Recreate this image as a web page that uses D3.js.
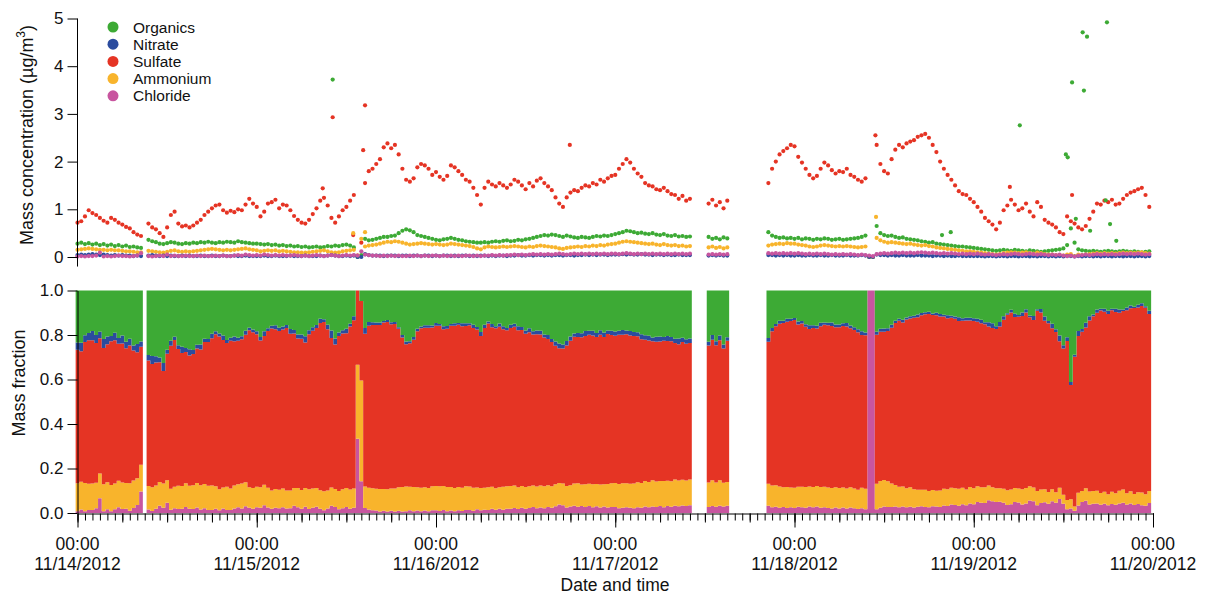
<!DOCTYPE html>
<html><head><meta charset="utf-8">
<script src="https://cdn.jsdelivr.net/npm/d3@7"></script>
<style>
body{margin:0;background:#fff;}
svg{font-family:"Liberation Sans",Arial,Helvetica,sans-serif;}
</style></head><body>
<svg id="chart" width="1205" height="594"></svg>
<script>
// ---- time grid (30-minute averages) ----
const startTime = "2012-11-14T00:00";
const stepMinutes = 30;

// ---- series (µg/m3), one value per 30-min slot, null = no data ----
const organics = [
0.28,0.30,0.27,0.29,0.26,0.28,0.25,0.27,0.24,0.26,0.23,0.25,0.22,0.24,0.21,0.22,0.20,0.19,
null,
0.36,0.33,0.31,0.28,0.27,0.29,0.31,0.30,0.28,0.27,0.29,0.28,0.30,0.29,0.31,0.30,0.32,0.30,0.29,0.31,0.30,0.32,0.31,0.30,0.33,0.31,0.30,0.29,0.28,
0.28,0.27,0.26,0.27,0.25,0.26,0.24,0.25,0.23,0.24,0.22,0.23,0.21,0.22,0.20,0.21,0.22,0.20,0.21,0.23,0.22,0.24,0.23,0.25,0.26,0.24,
0.20,0.00,0.04,
0.38,0.35,0.36,0.38,0.40,0.42,0.42,0.44,0.45,0.50,0.55,0.58,0.56,0.52,0.46,0.44,0.42,0.40,0.38,
0.36,0.35,0.37,0.38,0.40,0.38,0.36,0.35,0.33,0.32,0.31,0.30,0.30,0.31,0.30,0.32,0.33,0.32,0.34,0.35,0.33,0.34,0.36,0.35,0.37,0.38,0.40,0.42,0.44,0.46,0.45,0.47,0.46,0.44,0.42,0.45,0.43,0.41,0.40,0.42,0.41,0.40,0.42,0.44,0.43,0.45,0.44,0.46,
0.48,0.50,0.52,0.55,0.54,0.52,0.50,0.51,0.49,0.48,0.50,0.47,0.46,0.48,0.45,0.44,0.46,0.43,0.44,0.42,0.43,
null,null,null,null,
0.42,0.38,0.40,0.37,0.41,0.39,
null,null,null,null,null,null,null,null,null,null,
0.52,0.45,0.42,0.40,0.41,0.39,0.40,
0.38,0.40,0.37,0.39,0.38,0.36,0.38,0.37,0.39,0.38,0.36,0.37,0.38,0.36,0.37,0.38,0.39,0.40,0.42,0.45,
0.00,0.00,
0.65,0.50,0.46,0.44,0.45,0.42,0.40,0.41,0.38,0.37,0.36,0.35,0.33,0.32,0.30,0.31,0.28,0.27,0.26,0.25,0.24,0.23,0.22,0.22,0.21,0.20,
0.19,0.18,0.17,0.16,0.15,0.14,0.13,0.14,0.15,0.14,0.13,0.15,0.14,0.13,0.12,0.14,0.13,0.12,0.11,0.12,0.13,0.14,0.15,0.16,0.18,0.25,0.60,0.30,0.16,0.14,0.13,0.12,0.13,0.12,0.11,0.12,0.13,0.12,0.11,0.12,0.13,0.12,0.11,0.12,0.11,0.10,0.11,0.12
];

const nitrate = [
0.04,0.05,0.04,0.05,0.06,0.05,0.04,0.05,0.04,0.03,0.04,0.03,0.04,0.03,0.03,0.02,0.03,0.02,
null,
0.03,0.04,0.03,0.02,0.03,0.02,0.03,0.02,0.02,0.03,0.02,0.03,0.02,0.02,0.03,0.02,0.02,0.03,0.02,0.02,0.03,0.02,0.02,0.03,0.02,0.02,0.03,0.02,0.02,
0.02,0.02,0.03,0.02,0.02,0.03,0.02,0.02,0.02,0.03,0.02,0.02,0.02,0.03,0.02,0.02,0.02,0.03,0.02,0.03,0.04,0.03,0.02,0.02,0.03,0.02,
0.03,0.00,0.00,
0.06,0.04,0.03,0.03,0.03,0.02,0.03,0.03,0.03,0.02,0.03,0.03,0.02,0.03,0.03,0.02,0.03,0.03,0.02,
0.03,0.02,0.03,0.03,0.02,0.03,0.02,0.03,0.03,0.02,0.03,0.02,0.03,0.03,0.02,0.03,0.02,0.03,0.03,0.02,0.03,0.03,0.04,0.03,0.03,0.04,0.03,0.04,0.04,0.03,0.04,0.03,0.04,0.04,0.03,0.04,0.04,0.03,0.04,0.04,0.05,0.04,0.05,0.04,0.05,0.05,0.04,0.05,
0.05,0.05,0.06,0.05,0.06,0.05,0.05,0.06,0.05,0.05,0.04,0.05,0.05,0.04,0.05,0.04,0.04,0.05,0.04,0.04,0.04,
null,null,null,null,
0.03,0.04,0.03,0.04,0.03,0.03,
null,null,null,null,null,null,null,null,null,null,
0.04,0.04,0.03,0.04,0.03,0.04,0.03,
0.03,0.04,0.03,0.03,0.04,0.03,0.03,0.04,0.03,0.03,0.04,0.03,0.03,0.03,0.04,0.03,0.03,0.03,0.04,0.03,
0.00,0.00,
0.05,0.04,0.04,0.03,0.04,0.03,0.03,0.04,0.03,0.03,0.03,0.04,0.03,0.03,0.03,0.02,0.03,0.03,0.02,0.03,0.02,0.02,0.03,0.02,0.02,0.02,
0.02,0.02,0.02,0.01,0.02,0.02,0.01,0.02,0.02,0.01,0.02,0.02,0.01,0.02,0.02,0.01,0.02,0.01,0.02,0.02,0.01,0.02,0.01,0.02,0.01,0.02,0.02,0.01,0.02,0.01,0.02,0.02,0.01,0.02,0.01,0.02,0.02,0.01,0.02,0.02,0.01,0.02,0.02,0.01,0.02,0.02,0.01,0.02
];

const sulfate = [
0.72,0.75,0.85,0.98,0.92,0.88,0.82,0.76,0.72,0.82,0.78,0.72,0.68,0.63,0.60,0.52,0.47,0.44,
null,
0.70,0.62,0.58,0.50,0.42,0.62,0.88,0.95,0.70,0.64,0.66,0.62,0.66,0.72,0.78,0.88,0.95,1.02,1.08,1.10,0.98,0.93,0.97,0.94,1.00,0.98,1.10,1.22,1.12,
1.05,0.85,0.95,1.12,1.15,1.20,1.02,1.10,1.08,0.98,0.86,0.78,0.72,0.70,0.78,0.90,1.02,1.18,1.24,1.08,0.82,0.72,0.85,0.98,1.05,1.18,
1.30,0.03,0.30,
1.55,1.80,1.85,1.95,2.05,2.30,2.38,2.28,2.35,2.15,1.85,1.62,1.58,1.65,1.88,1.95,1.92,1.85,1.72,
1.78,1.68,1.62,1.70,1.92,1.88,1.80,1.72,1.62,1.58,1.45,1.30,1.10,1.45,1.58,1.52,1.48,1.55,1.50,1.45,1.52,1.62,1.58,1.50,1.42,1.55,1.48,1.60,1.65,1.55,1.48,1.40,1.25,1.12,1.05,1.25,1.35,1.40,1.38,1.45,1.50,1.48,1.55,1.52,1.62,1.58,1.65,1.70,
1.72,1.85,1.95,2.05,1.98,1.85,1.75,1.68,1.55,1.50,1.48,1.42,1.40,1.45,1.38,1.32,1.30,1.22,1.28,1.18,1.22,
null,null,null,null,
1.12,1.20,1.08,1.15,1.02,1.18,
null,null,null,null,null,null,null,null,null,null,
1.55,1.85,2.00,2.15,2.22,2.28,2.35,
2.32,2.10,1.98,1.85,1.72,1.65,1.70,1.85,1.98,1.92,1.82,1.75,1.80,1.78,1.85,1.72,1.68,1.62,1.58,1.65,
null,null,
2.35,1.95,1.80,1.75,2.05,2.25,2.35,2.30,2.38,2.42,2.45,2.52,2.55,2.58,2.50,2.35,2.20,2.00,1.85,1.72,1.62,1.50,1.38,1.32,1.30,1.22,
1.15,1.05,0.95,0.82,0.75,0.68,0.58,0.72,0.98,1.08,1.20,1.10,0.98,1.02,1.12,0.95,0.85,1.15,1.05,0.78,0.72,0.68,0.62,0.52,0.48,0.85,0.75,0.70,0.62,0.58,0.65,0.80,0.95,1.12,1.10,1.18,1.15,1.20,1.10,1.12,1.22,1.30,1.35,1.38,1.42,1.45,1.30,1.05
];

const ammonium = [
0.15,0.16,0.17,0.18,0.17,0.16,0.15,0.15,0.14,0.15,0.14,0.14,0.13,0.12,0.12,0.11,0.10,0.10,
null,
0.13,0.12,0.11,0.10,0.09,0.11,0.13,0.14,0.12,0.11,0.12,0.11,0.12,0.13,0.14,0.15,0.16,0.17,0.16,0.15,0.14,0.15,0.14,0.15,0.16,0.17,0.18,0.16,0.15,
0.14,0.12,0.13,0.14,0.13,0.14,0.12,0.13,0.12,0.11,0.10,0.10,0.09,0.09,0.10,0.11,0.12,0.13,0.14,0.12,0.10,0.09,0.10,0.12,0.13,0.14,
0.15,0.03,0.38,
0.22,0.24,0.25,0.26,0.28,0.30,0.32,0.31,0.33,0.32,0.30,0.28,0.26,0.27,0.28,0.29,0.28,0.27,0.26,
0.27,0.26,0.25,0.26,0.28,0.27,0.26,0.25,0.24,0.23,0.21,0.18,0.16,0.20,0.22,0.21,0.20,0.21,0.22,0.21,0.22,0.23,0.22,0.21,0.20,0.22,0.21,0.23,0.24,0.23,0.22,0.21,0.20,0.18,0.17,0.19,0.20,0.21,0.22,0.21,0.23,0.22,0.24,0.23,0.25,0.24,0.26,0.27,
0.28,0.30,0.32,0.33,0.32,0.31,0.30,0.29,0.28,0.27,0.28,0.26,0.25,0.27,0.25,0.24,0.25,0.23,0.24,0.22,0.23,
null,null,null,null,
0.20,0.22,0.19,0.21,0.18,0.20,
null,null,null,null,null,null,null,null,null,null,
0.24,0.26,0.27,0.28,0.27,0.29,0.28,
0.28,0.26,0.25,0.24,0.22,0.21,0.22,0.24,0.25,0.24,0.23,0.22,0.23,0.22,0.23,0.22,0.21,0.20,0.21,0.22,
0.00,0.00,
0.40,0.35,0.32,0.30,0.31,0.30,0.29,0.28,0.27,0.28,0.26,0.25,0.24,0.25,0.23,0.22,0.20,0.19,0.18,0.17,0.16,0.15,0.14,0.13,0.12,0.12,
0.11,0.10,0.09,0.08,0.07,0.06,0.05,0.06,0.08,0.09,0.10,0.09,0.08,0.09,0.10,0.08,0.07,0.09,0.08,0.06,0.05,0.05,0.04,0.04,0.03,0.05,0.06,0.02,0.05,0.04,0.05,0.06,0.07,0.08,0.07,0.08,0.07,0.08,0.07,0.08,0.09,0.08,0.09,0.08,0.09,0.10,0.08,0.07
];

const chloride = [
0.01,0.02,0.01,0.02,0.02,0.03,0.09,0.01,0.02,0.01,0.02,0.03,0.02,0.02,0.01,0.02,0.03,0.08,
null,
0.02,0.01,0.02,0.03,0.02,0.05,0.02,0.03,0.02,0.02,0.03,0.02,0.02,0.03,0.02,0.03,0.02,0.02,0.03,0.02,0.03,0.02,0.02,0.03,0.04,0.03,0.05,0.04,0.03,
0.04,0.03,0.05,0.04,0.03,0.04,0.03,0.04,0.03,0.03,0.04,0.03,0.02,0.03,0.02,0.03,0.04,0.03,0.02,0.03,0.04,0.03,0.02,0.03,0.04,0.03,
0.04,0.03,0.12,
0.05,0.04,0.03,0.03,0.02,0.03,0.02,0.03,0.02,0.03,0.02,0.02,0.03,0.02,0.03,0.02,0.03,0.02,0.03,
0.03,0.02,0.03,0.02,0.03,0.02,0.03,0.02,0.03,0.03,0.02,0.03,0.02,0.03,0.03,0.04,0.03,0.04,0.03,0.04,0.04,0.05,0.04,0.05,0.04,0.05,0.06,0.05,0.06,0.05,0.06,0.05,0.06,0.07,0.06,0.05,0.06,0.07,0.06,0.07,0.06,0.07,0.06,0.07,0.06,0.07,0.06,0.07,
0.07,0.06,0.07,0.08,0.07,0.06,0.07,0.06,0.07,0.06,0.07,0.06,0.07,0.06,0.07,0.06,0.07,0.06,0.07,0.06,0.07,
null,null,null,null,
0.05,0.06,0.05,0.06,0.05,0.06,
null,null,null,null,null,null,null,null,null,null,
0.08,0.07,0.08,0.07,0.08,0.07,0.08,
0.07,0.08,0.07,0.06,0.07,0.06,0.07,0.06,0.07,0.06,0.05,0.06,0.05,0.06,0.05,0.06,0.05,0.04,0.05,0.04,
0.03,0.02,
0.06,0.07,0.08,0.07,0.08,0.09,0.08,0.09,0.08,0.09,0.08,0.09,0.10,0.09,0.08,0.09,0.08,0.07,0.08,0.07,0.08,0.07,0.06,0.07,0.06,0.07,
0.06,0.07,0.06,0.05,0.06,0.05,0.04,0.05,0.06,0.05,0.06,0.07,0.06,0.05,0.06,0.07,0.06,0.05,0.06,0.05,0.04,0.05,0.04,0.05,0.03,0.02,0.03,0.01,0.03,0.04,0.05,0.04,0.05,0.06,0.05,0.06,0.05,0.06,0.05,0.06,0.07,0.06,0.07,0.06,0.07,0.06,0.05,0.06
];

// ---- isolated single readings (shown in the concentration panel only) ----
const organicsOutliers = [
["2012-11-15T10:10",3.72],["2012-11-18T19:45",0.46],["2012-11-18T20:55",0.52],
["2012-11-19T06:10",2.76],["2012-11-19T12:20",2.15],["2012-11-19T12:35",2.09],
["2012-11-19T13:10",3.66],["2012-11-19T13:40",0.80],["2012-11-19T14:35",4.71],
["2012-11-19T14:45",3.49],["2012-11-19T15:10",4.62],["2012-11-19T15:35",0.55],
["2012-11-19T17:40",1.19],["2012-11-19T17:50",4.92],["2012-11-19T18:15",0.69],
["2012-11-19T19:05",0.34]
];
const sulfateOutliers = [
["2012-11-15T08:50",1.44],["2012-11-15T10:10",2.93],["2012-11-15T12:55",0.46],
["2012-11-15T14:15",2.24],["2012-11-15T14:30",3.18],["2012-11-16T17:55",2.35],
["2012-11-18T10:50",2.55],["2012-11-19T04:50",1.47],["2012-11-19T13:10",1.30]
];
const ammoniumOutliers = [
["2012-11-15T12:55",0.50],["2012-11-15T14:30",0.52],["2012-11-18T10:55",0.84]
];

const concTicks = [0,1,2,3,4,5];
const fracTicks = [0,0.2,0.4,0.6,0.8,1.0];
const dayTicks = ["2012-11-14T00:00","2012-11-15T00:00","2012-11-16T00:00","2012-11-17T00:00","2012-11-18T00:00","2012-11-19T00:00","2012-11-20T00:00"];

const seriesNames = ["Organics","Nitrate","Sulfate","Ammonium","Chloride"];
const seriesColors = ["#3DAA35","#2B4C9E","#E53424","#F8B42C","#C8559F"];

// ---------------------------------------------------------------
const parse = d3.timeParse("%Y-%m-%dT%H:%M");
const t0 = parse(startTime);
const stepMs = stepMinutes*60000;
const slotTime = i => new Date(t0.getTime() + i*stepMs);
const seriesData = {Organics:organics, Nitrate:nitrate, Sulfate:sulfate, Ammonium:ammonium, Chloride:chloride};
const color = d3.scaleOrdinal(seriesNames, seriesColors);

const svg = d3.select("#chart");
const days = dayTicks.map(parse);
const x = d3.scaleTime().domain([days[0], days[days.length-1]]).range([77.5, 1153]);
const yTop = d3.scaleLinear().domain([0,5]).range([257,18.5]);
const yFrac = d3.scaleLinear().domain([0,1]).range([513,290.5]);

// ---------- fraction panel (stacked, step areas) ----------
const fracKeys = ["Chloride","Ammonium","Sulfate","Nitrate","Organics"];
const rows = d3.range(organics.length).map(i => {
  if (organics[i] === null) return null;
  const r = {t: slotTime(i)};
  let total = 0;
  fracKeys.forEach(k => { const v = Math.max(0, seriesData[k][i] || 0); r[k]=v; total += v; });
  fracKeys.forEach(k => { r[k] = r[k]/total; });
  return r;
});
const half = stepMs/2;
const gFrac = svg.append("g");
const area = d3.area().defined(d => !d.gap)
  .x(d => x(d.t)).y0(d => yFrac(d.lo)).y1(d => yFrac(d.hi));
const cum = rows.map(r => r ? 0 : null);
fracKeys.forEach(k => {
  const pts = [];
  rows.forEach((r,i) => {
    if (!r) { pts.push({gap:true}); return; }
    const lo = cum[i], hi = cum[i] + r[k];
    cum[i] = hi;
    pts.push({t:new Date(r.t.getTime()-half), lo, hi});
    pts.push({t:new Date(r.t.getTime()+half), lo, hi});
  });
  gFrac.append("path").attr("d", area(pts)).attr("fill", color(k));
});

// ---------- concentration panel ----------
const gTop = svg.append("g");
const drawOrder = ["Organics","Sulfate","Ammonium","Nitrate","Chloride"];
drawOrder.forEach(name => {
  const pts = seriesData[name].map((v,i)=>({t:slotTime(i), v})).filter(d=>d.v!==null);
  gTop.append("g").selectAll("circle").data(pts).join("circle")
    .attr("cx", d=>x(d.t)).attr("cy", d=>yTop(d.v)).attr("r", 2.1)
    .attr("fill", color(name));
});
[["Organics",organicsOutliers],["Sulfate",sulfateOutliers],["Ammonium",ammoniumOutliers]].forEach(([name,arr])=>{
  gTop.append("g").selectAll("circle").data(arr).join("circle")
    .attr("cx", d=>x(parse(d[0]))).attr("cy", d=>yTop(d[1])).attr("r", 2.1)
    .attr("fill", color(name));
});

const axTop = svg.append("g").attr("transform","translate(77.5,0)")
  .call(d3.axisLeft(yTop).tickValues(concTicks).tickSize(10).tickPadding(4).tickSizeOuter(0).tickFormat(d3.format("d")));
axTop.select(".domain").remove();
axTop.append("line").attr("x1",0).attr("x2",0).attr("y1",yTop(5)).attr("y2",yTop(-0.2)).attr("stroke","#000");
axTop.selectAll(".tick text").attr("font-size",17).attr("fill","#111").attr("font-family","Liberation Sans, Arial, sans-serif");

const axFrac = svg.append("g").attr("transform","translate(77.5,0)")
  .call(d3.axisLeft(yFrac).tickValues(fracTicks).tickSize(10).tickPadding(4).tickSizeOuter(0).tickFormat(d3.format(".1f")));
axFrac.selectAll(".tick text").attr("font-size",17).attr("fill","#111").attr("font-family","Liberation Sans, Arial, sans-serif");

// ---------- x axis ----------
const gx = svg.append("g").attr("transform","translate(0,513.5)");
gx.append("g").call(d3.axisBottom(x).ticks(d3.timeHour.every(1)).tickSize(7).tickSizeOuter(0).tickFormat(""))
  .call(g=>g.select(".domain").attr("stroke","#000"));
gx.append("g").call(d3.axisBottom(x).ticks(d3.timeHour.every(6)).tickSize(9).tickSizeOuter(0).tickFormat(""))
  .call(g=>g.select(".domain").remove());
const major = gx.append("g").call(d3.axisBottom(x).tickValues(days).tickSize(14).tickSizeOuter(0).tickFormat(""));
major.select(".domain").remove();
const fmtH = d3.timeFormat("%H:%M"), fmtD = d3.timeFormat("%m/%d/%Y");
const labels = svg.append("g").attr("font-size",17.5).attr("fill","#111").attr("text-anchor","middle");
days.forEach(d => {
  labels.append("text").attr("x", x(d)).attr("y", 550).text(fmtH(d));
  labels.append("text").attr("x", x(d)).attr("y", 570).text(fmtD(d));
});

// ---------- titles ----------
svg.append("text").attr("x",615).attr("y",591).attr("text-anchor","middle").attr("font-size",17.5).attr("fill","#111").text("Date and time");
const tt = svg.append("text").attr("transform","translate(33,135) rotate(-90)").attr("text-anchor","middle").attr("font-size",18).attr("fill","#111");
tt.append("tspan").text("Mass concentration (µg/m");
tt.append("tspan").attr("font-size",12).attr("dy",-8).text("3");
tt.append("tspan").attr("dy",8).text(")");
svg.append("text").attr("transform","translate(25,383) rotate(-90)").attr("text-anchor","middle").attr("font-size",18).attr("fill","#111").text("Mass fraction");

// ---------- legend ----------
const leg = svg.append("g");
seriesNames.forEach((name,k) => {
  leg.append("circle").attr("cx",113).attr("cy",27+17.2*k).attr("r",5.5).attr("fill",color(name));
  leg.append("text").attr("x",133).attr("y",27+17.2*k).attr("dy","0.36em").attr("font-size",15.5).attr("fill","#111").text(name);
});
</script>
</body></html>
